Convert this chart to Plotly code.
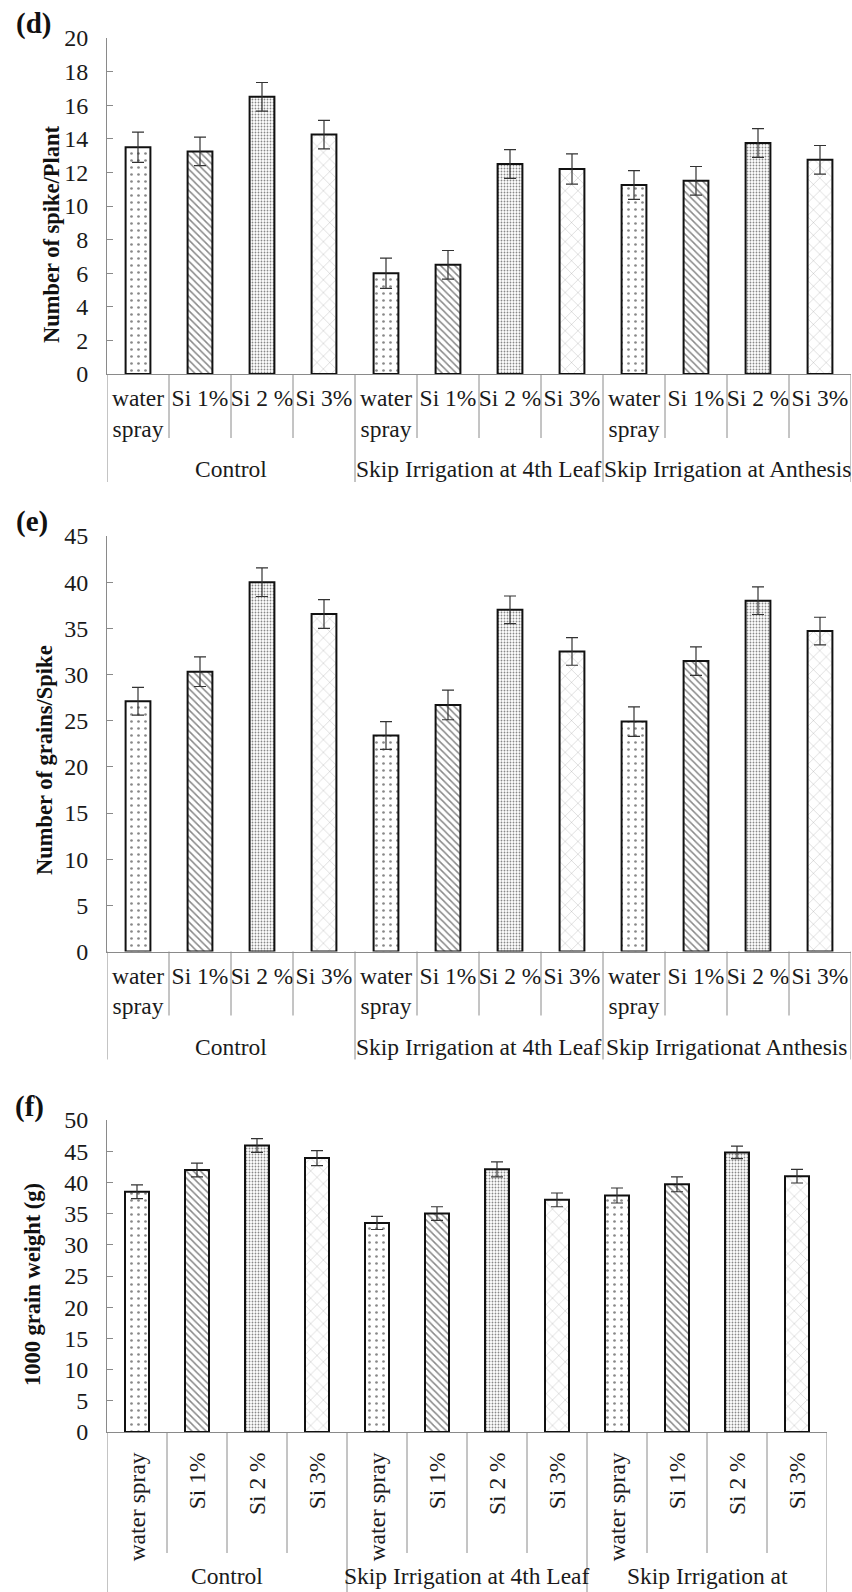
import plotly.graph_objects as go

W, H = 852, 1592

def yp(px):
    return 1 - px / H

def xp(px):
    return px / W

# ---------------- data ----------------
treatments = ["water spray", "Si 1%", "Si 2 %", "Si 3%"]
treatments_2line = ["water<br>spray", "Si 1%", "Si 2 %", "Si 3%"]
groups_d = ["Control", "Skip Irrigation at 4th Leaf", "Skip Irrigation at Anthesis"]
groups_e = ["Control", "Skip Irrigation at 4th Leaf", "Skip Irrigationat Anthesis"]
groups_f = ["Control", "Skip Irrigation at 4th Leaf", "Skip Irrigation at"]

spike_per_plant = [13.5, 13.25, 16.5, 14.25, 6.0, 6.5, 12.5, 12.2, 11.25, 11.5, 13.75, 12.75]
spike_err = [0.9, 0.85, 0.85, 0.85, 0.9, 0.85, 0.85, 0.9, 0.85, 0.85, 0.85, 0.85]

grains_per_spike = [27.1, 30.3, 40.0, 36.55, 23.4, 26.7, 37.0, 32.5, 24.9, 31.45, 38.0, 34.7]
grains_err = [1.5, 1.6, 1.55, 1.55, 1.5, 1.6, 1.5, 1.5, 1.6, 1.55, 1.5, 1.5]

grain_weight = [38.5, 42.0, 45.9, 43.9, 33.5, 35.0, 42.1, 37.2, 37.9, 39.7, 44.8, 41.0]
weight_err = [1.1, 1.1, 1.1, 1.2, 1.05, 1.1, 1.2, 1.1, 1.2, 1.2, 1.0, 1.1]

# pattern per treatment
pattern_shapes = [".", "\\", ".", "x"]
pattern_sizes = [7, 5, 3, 9]
pattern_solidity = [0.12, 0.3, 0.3, 0.06]

FONT = "Liberation Serif"
TXT = "#1a1a1a"
LINE = "#8a8a8a"
LBL = 23.5

panels = [
    dict(vals=spike_per_plant, err=spike_err, groups=groups_d, top=38, bottom=374, right=851,
         ymax=20, dtick=2, title="Number of spike/Plant", title_xy=(51, 234),
         tag="(d)", tag_xy=(33, 24), rotated=False),
    dict(vals=grains_per_spike, err=grains_err, groups=groups_e, top=536, bottom=951.5, right=851,
         ymax=45, dtick=5, title="Number of grains/Spike", title_xy=(45, 760),
         tag="(e)", tag_xy=(32, 522), rotated=False),
    dict(vals=grain_weight, err=weight_err, groups=groups_f, top=1120, bottom=1432, right=827,
         ymax=50, dtick=5, title="1000 grain weight (g)", title_xy=(32, 1285),
         tag="(f)", tag_xy=(29, 1106), rotated=True),
]

fig = go.Figure()
shapes = []
annotations = []
n_t = len(treatments)

for k, p in enumerate(panels):
    sfx = "" if k == 0 else str(k + 1)
    xa, ya = "x" + sfx, "y" + sfx
    n = len(p["vals"])
    xs = list(range(n))
    t_idx = [i % n_t for i in xs]
    fig.add_trace(go.Bar(
        x=xs, y=p["vals"], xaxis=xa, yaxis=ya, width=0.4,
        marker=dict(
            color="white",
            line=dict(color="#111111", width=2),
            pattern=dict(
                shape=[pattern_shapes[t] for t in t_idx],
                size=[pattern_sizes[t] for t in t_idx],
                solidity=[pattern_solidity[t] for t in t_idx],
                fgcolor="#111111", bgcolor="white", fillmode="overlay",
            ),
        ),
        error_y=dict(type="data", array=p["err"], visible=True, color="#333333",
                     thickness=1.2, width=6),
        showlegend=False,
    ))

    if p["rotated"]:
        ticktext = treatments * len(p["groups"])
    else:
        ticktext = treatments_2line * len(p["groups"])

    fig.layout["xaxis" + sfx] = dict(
        domain=[xp(107), xp(p["right"])], anchor=ya, range=[-0.5, n - 0.5],
        showline=True, linecolor=LINE, linewidth=1, showgrid=False, zeroline=False,
        ticks="", tickmode="array", tickvals=xs, ticktext=ticktext,
        tickangle=-90 if p["rotated"] else 0,
        tickfont=dict(family=FONT, size=LBL, color=TXT),
        ticklabelstandoff=10 if p["rotated"] else 3,
        automargin=False, fixedrange=True,
    )
    fig.layout["yaxis" + sfx] = dict(
        domain=[yp(p["bottom"]), yp(p["top"])], anchor=xa, range=[0, p["ymax"]],
        dtick=p["dtick"], tick0=0, showline=True, linecolor=LINE, linewidth=1,
        ticks="inside", ticklen=6, tickcolor=LINE, showgrid=False, zeroline=False,
        tickfont=dict(family=FONT, size=24, color=TXT), ticklabelstandoff=13,
        automargin=False, fixedrange=True,
    )

    # category dividers
    inner_len = 121 if p["rotated"] else 64
    group_len = None if p["rotated"] else 108
    for b in range(n + 1):
        x = b - 0.5
        if b % n_t == 0:
            y1 = 0 if group_len is None else yp(p["bottom"] + group_len)
        else:
            y1 = yp(p["bottom"] + inner_len)
        shapes.append(dict(type="line", xref=xa, yref="paper", x0=x, x1=x,
                           y0=yp(p["bottom"]), y1=y1,
                           line=dict(color=LINE, width=1)))

    # group labels
    label_y = 1576 if p["rotated"] else p["bottom"] + 95
    for g, name in enumerate(p["groups"]):
        gx = g * n_t + (n_t - 1) / 2
        annotations.append(dict(x=gx, xref=xa, y=yp(label_y), yref="paper",
                                text=name, showarrow=False, yanchor="middle",
                                xanchor="center",
                                font=dict(family=FONT, size=LBL, color=TXT)))

    # axis title
    tx, ty = p["title_xy"]
    annotations.append(dict(x=xp(tx), y=yp(ty), xref="paper", yref="paper",
                            text="<b>" + p["title"] + "</b>", textangle=-90,
                            showarrow=False, xanchor="center", yanchor="middle",
                            font=dict(family=FONT, size=22.5, color="#111111")))
    # panel tag
    gx_, gy_ = p["tag_xy"]
    annotations.append(dict(x=xp(gx_), y=yp(gy_), xref="paper", yref="paper",
                            text="<b>" + p["tag"] + "</b>", showarrow=False,
                            xanchor="center", yanchor="middle",
                            font=dict(family=FONT, size=29, color="#111111")))

fig.update_layout(
    width=W, height=H, margin=dict(l=0, r=0, t=0, b=0, autoexpand=False),
    paper_bgcolor="white", plot_bgcolor="white",
    shapes=shapes, annotations=annotations, bargap=0.6,
)

fig.write_html("out.html", config={"displayModeBar": False})
